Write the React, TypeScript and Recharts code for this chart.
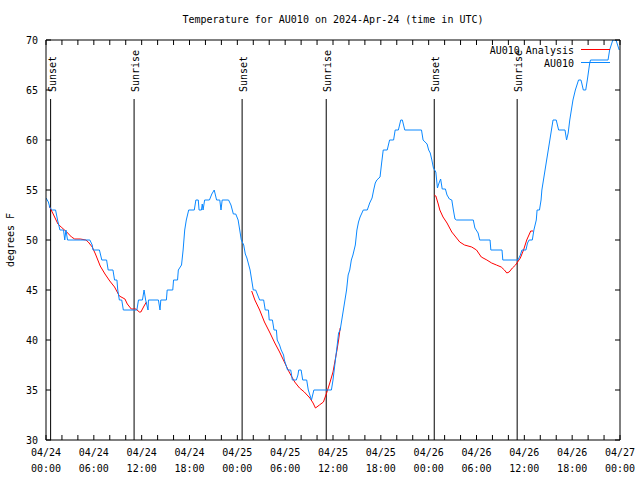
import { LineChart, Line, XAxis, YAxis, ReferenceLine } from "recharts";

// hours since 04/24 00:00 UTC
const obsHours = [
  0.0, 0.3, 0.5, 0.8, 1.2, 1.45, 1.6, 1.75, 2.2, 2.35, 2.5, 2.7, 3.0, 5.5, 5.8, 5.9, 6.7, 7.0, 7.6, 7.8,
  8.4, 8.6, 8.9, 9.0, 9.2, 9.5, 9.7, 11.4, 11.6, 12.1, 12.3, 12.5, 12.8, 12.85, 14.1, 14.3, 14.4, 15.1, 15.2, 15.9,
  16.0, 16.5, 16.6, 17.0, 17.2, 17.4, 17.6, 17.9, 18.6, 18.8, 19.1, 19.2, 19.5, 19.6, 19.7, 19.9, 20.5, 20.8, 21.1, 21.4,
  21.8, 21.95, 22.1, 22.9, 23.2, 23.5, 23.8, 24.1, 24.3, 24.5, 24.8, 25.0, 25.2, 25.4, 25.6, 25.8, 26.0, 26.3, 26.5, 26.8,
  27.3, 27.5, 27.9, 28.0, 28.4, 28.6, 28.9, 29.0, 29.3, 29.5, 29.8, 29.9, 30.3, 30.7, 30.9, 31.4, 31.6, 31.7, 32.0, 32.2,
  32.7, 32.9, 33.3, 33.6, 35.8, 36.0, 36.3, 36.5, 36.7, 36.9, 37.1, 37.3, 37.5, 37.7, 37.9, 38.1, 38.3, 38.5, 38.8, 39.0,
  39.2, 39.4, 39.8, 40.3, 40.6, 40.9, 41.1, 41.3, 41.5, 41.9, 42.1, 42.3, 42.8, 43.1, 43.6, 43.8, 44.2, 44.5, 44.7, 45.0,
  47.1, 47.3, 47.8, 48.0, 48.2, 48.4, 48.6, 48.9, 49.1, 49.3, 49.5, 49.7, 50.1, 50.3, 50.6, 50.9, 51.1, 51.3, 51.5, 53.6,
  53.8, 54.2, 54.4, 55.7, 55.8, 57.2, 57.3, 59.2, 59.5, 59.7, 60.2, 60.4, 60.6, 61.0, 61.2, 61.5, 61.6, 61.9, 62.1, 62.2,
  62.4, 62.6, 62.8, 63.0, 63.2, 63.4, 63.6, 64.0, 64.3, 65.1, 65.3, 65.5, 65.7, 65.9, 66.1, 66.4, 66.8, 67.1, 67.2, 67.4,
  67.7, 67.9, 68.2, 68.3, 70.5, 70.7, 71.1, 71.5, 71.7, 71.9,
];
const obsTemps = [
  54.2, 53.8, 53.2, 53, 53, 52, 51.5, 51, 51, 50, 51, 50, 50, 50, 49.5, 49, 49, 48, 48, 47,
  47, 46, 46, 45, 44, 44, 43, 43, 44, 44, 45, 44, 43, 44, 44, 43, 44, 44, 45, 45,
  46, 46, 47, 47.5, 49, 51, 52, 53, 53, 54, 54, 53, 53, 53.6, 53, 54, 54, 54.6, 55, 54,
  54, 53, 54, 54, 53.5, 52.6, 52.6, 52, 51, 50, 49.5, 48.6, 48.2, 47.6, 47, 46, 45, 45, 44.6, 44,
  44, 43, 43, 42, 42, 41, 41, 40, 39.5, 39, 38.5, 38, 37, 37, 36, 36, 36.5, 37, 37, 36,
  36, 35, 34, 35, 35, 36, 38, 39.3, 40.7, 41, 42, 43, 44, 45, 46.5, 47, 48, 48.5, 49.5, 51,
  51.8, 52.3, 53, 53, 53.7, 54.2, 55, 55.7, 56, 56.3, 57.7, 59, 59, 60, 60, 61, 61, 62, 62, 61,
  61, 60, 59.6, 59, 58.7, 58, 57.2, 56.8, 55.2, 55.7, 56.1, 55.1, 55.1, 54.5, 54.1, 54, 53, 52.1, 52, 52,
  51.2, 50.7, 50, 50, 49, 49, 48, 48, 48.5, 49, 49, 49.7, 50, 50, 51, 52, 53, 53, 54, 55,
  56, 57, 58, 59, 60, 61, 62, 62, 61, 61, 60, 60.7, 62, 63, 64, 65, 66, 66, 65.7, 65,
  65, 66, 67.7, 68, 68, 69, 70, 70, 69.5, 69,
];

// analysis, null = gap between runs
const anaHours = [
  0.4, 0.9, 1.5, 1.9, 2.6, 3.2, 3.6, 4.3, 5.0, 5.3, 5.8, 6.2, 6.8, 7.4, 8.0, 8.6, 9.2, 9.9, 10.2, 10.7,
  11.3, 11.7, 11.9, 12.3, 12.6, 18.0,
  25.8, 26.2, 26.8, 27.4, 28.1, 28.7, 29.3, 29.9, 30.5, 31.2, 31.8, 32.4, 33.1, 33.5, 33.8, 34.3, 34.8, 35.2, 35.6, 36.0,
  36.5, 36.7, 36.9, 37.0, 42.0,
  48.7, 48.9, 49.2, 49.4, 49.8, 50.3, 50.9, 51.5, 51.9, 52.5, 53.4, 54.0, 54.6, 55.3, 55.9, 56.5, 57.1, 57.5, 57.8, 58.1,
  58.5, 58.9, 59.5, 59.9, 60.3, 60.8, 61.1,
];
const anaTemps = [
  53.4, 52.6, 51.6, 51.3, 50.8, 50.3, 50.1, 50.1, 50, 49.8, 49.3, 48.6, 47.4, 46.6, 45.9, 45.3, 44.4, 44.1, 43.6, 43.1,
  43.1, 42.8, 42.8, 43.4, 43.8, null,
  44.9, 44, 43, 41.8, 40.7, 39.7, 38.8, 37.8, 36.8, 35.8, 35.2, 34.8, 34.2, 33.7, 33.2, 33.5, 33.8, 34.7, 35.7, 36.8,
  39, 40, 41.2, 41.2, null,
  54.5, 54.4, 53.6, 53.0, 52.3, 51.7, 50.8, 50.2, 49.8, 49.5, 49.3, 49.0, 48.3, 48, 47.7, 47.5, 47.3, 47.0, 46.7, 46.8,
  47.2, 47.5, 48.2, 49, 50, 50.9, 50.9,
];

const sunHours = [0.58, 11.05, 24.6, 35.15, 48.7, 59.1];
const sunNames = ["Sunset", "Sunrise", "Sunset", "Sunrise", "Sunset", "Sunrise"];

const dateLabels = ["04/24", "04/24", "04/24", "04/24", "04/25", "04/25", "04/25", "04/25", "04/26", "04/26", "04/26", "04/26", "04/27"];
const timeLabels = ["00:00", "06:00", "12:00", "18:00", "00:00", "06:00", "12:00", "18:00", "00:00", "06:00", "12:00", "18:00", "00:00"];
const yTicks = [30, 35, 40, 45, 50, 55, 60, 65, 70];
const seriesNames = ["AU010 Analysis", "AU010"];

const FONT = "'DejaVu Sans Mono', 'Liberation Mono', monospace";
const RED = "#ff0000";
const BLUE = "#0a88ff";

const obsData = obsHours.map((h, i) => ({ h, t: obsTemps[i] }));
const anaData = anaHours.map((h, i) => ({ h, t: anaTemps[i] }));
const xTicks = Array.from({ length: 37 }, (_, i) => i * 2);

function TimeTick({ x, y, payload }: any) {
  const v = payload.value;
  if (v % 6 !== 0) return <g />;
  const i = v / 6;
  return (
    <text x={x} y={y} textAnchor="middle" fontFamily={FONT} fontSize={10} fill="#000">
      <tspan x={x} dy={16}>{dateLabels[i]}</tspan>
      <tspan x={x} dy={16}>{timeLabels[i]}</tspan>
    </text>
  );
}

function NoTick() {
  return <g />;
}

function SunLabel({ viewBox, text }: any) {
  if (!viewBox) return null;
  const x = viewBox.x + 5;
  const y = viewBox.y - 7;
  return (
    <text transform={`translate(${x},${y}) rotate(-90)`} textAnchor="start" fontFamily={FONT} fontSize={10} fill="#000">
      {text}
    </text>
  );
}

export default function App() {
  return (
    <div style={{ position: "absolute", left: 0, top: 0, width: 640, height: 480, background: "#fff" }}>
      <LineChart width={640} height={480} margin={{ top: 39, right: 19, bottom: 0, left: 0 }}>
        <XAxis
          dataKey="h"
          type="number"
          domain={[0, 72]}
          ticks={xTicks}
          interval={0}
          allowDataOverflow
          height={40}
          tickSize={-5}
          tickMargin={5}
          axisLine={{ stroke: "#000" }}
          tickLine={{ stroke: "#000" }}
          tick={<TimeTick />}
        />
        <XAxis
          xAxisId="top"
          orientation="top"
          dataKey="h"
          type="number"
          domain={[0, 72]}
          ticks={xTicks}
          interval={0}
          allowDataOverflow
          height={1}
          tickSize={-5}
          axisLine={{ stroke: "#000" }}
          tickLine={{ stroke: "#000" }}
          tick={<NoTick />}
        />
        <YAxis
          type="number"
          domain={[30, 70]}
          ticks={yTicks}
          interval={0}
          allowDataOverflow
          width={46}
          tickSize={-5}
          tickMargin={13}
          axisLine={{ stroke: "#000" }}
          tickLine={{ stroke: "#000" }}
          tick={{ fontSize: 10, fontFamily: FONT, fill: "#000" }}
        />
        <YAxis
          yAxisId="right"
          orientation="right"
          type="number"
          domain={[30, 70]}
          ticks={yTicks}
          interval={0}
          allowDataOverflow
          width={1}
          tickSize={-5}
          axisLine={{ stroke: "#000" }}
          tickLine={{ stroke: "#000" }}
          tick={<NoTick />}
        />
        {sunHours.map((h, i) => (
          <ReferenceLine
            key={i}
            segment={[{ x: h, y: 64.1 }, { x: h, y: 30 }]}
            stroke="#000"
            strokeWidth={1}
            label={<SunLabel text={sunNames[i]} />}
          />
        ))}
        <Line
          data={anaData}
          dataKey="t"
          type="linear"
          stroke={RED}
          strokeWidth={1}
          dot={false}
          connectNulls={false}
          isAnimationActive={false}
        />
        <Line
          data={obsData}
          dataKey="t"
          type="linear"
          stroke={BLUE}
          strokeWidth={1}
          dot={false}
          isAnimationActive={false}
        />
        {/* invisible copy so the mirrored top/right axes get their ticks */}
        <Line
          data={obsData}
          dataKey="t"
          xAxisId="top"
          yAxisId="right"
          stroke="none"
          dot={false}
          activeDot={false}
          isAnimationActive={false}
        />
      </LineChart>
      <svg width={640} height={480} style={{ position: "absolute", left: 0, top: 0, pointerEvents: "none" }}>
        <text x={333} y={22.5} textAnchor="middle" fontFamily={FONT} fontSize={10} fill="#000">
          Temperature for AU010 on 2024-Apr-24 (time in UTC)
        </text>
        <text transform="translate(13.5,240) rotate(-90)" textAnchor="middle" fontFamily={FONT} fontSize={10} fill="#000">
          degrees F
        </text>
        <text x={574} y={53.5} textAnchor="end" fontFamily={FONT} fontSize={10} fill="#000">
          {seriesNames[0]}
        </text>
        <line x1={581} x2={610} y1={49.5} y2={49.5} stroke={RED} strokeWidth={1} />
        <text x={574} y={66.5} textAnchor="end" fontFamily={FONT} fontSize={10} fill="#000">
          {seriesNames[1]}
        </text>
        <line x1={581} x2={610} y1={62.5} y2={62.5} stroke={BLUE} strokeWidth={1} />
      </svg>
    </div>
  );
}
